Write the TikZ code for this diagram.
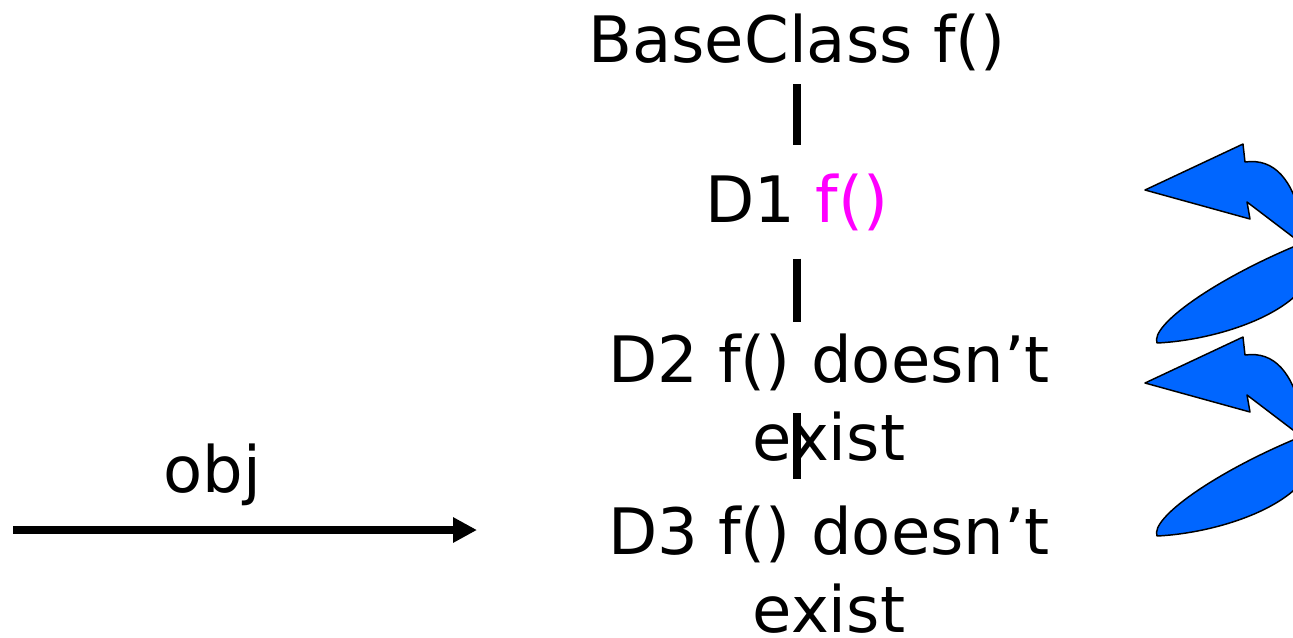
\documentclass[tikz,border=0pt]{standalone}
\usepackage{fontspec}
\setmainfont{DejaVu Sans}
\usepackage{tikz}
\usetikzlibrary{arrows.meta}
\usepackage{xcolor}
\definecolor{CurlBlue}{RGB}{0,102,255}
\definecolor{FunMagenta}{RGB}{255,0,255}

\begin{document}
\begin{tikzpicture}[
x=0.75pt,y=-0.75pt,
cls/.style={inner sep=0pt,anchor=base,align=center,
font=\fontsize{48}{58}\selectfont},
link/.style={line width=6pt,draw=black},
ptr/.style={-{Triangle[length=18pt,width=18pt]},line width=6pt},
curl/.style={fill=CurlBlue,draw=black,line width=1.1pt,line join=round}
]
\useasboundingbox (0,0) rectangle (1293,637);
\node[cls] (base) at (797,62) {BaseClass f()};
\node[cls] (d1) at (797,222) {D1 \textcolor{FunMagenta}{f()}};
\node[cls] (d2) at (829,460) {D2 f() doesn’t\\exist};
\node[cls] (d3) at (829,632) {D3 f() doesn’t\\exist};
\node[cls] (obj) at (212,492) {obj};
\coordinate (objstart) at (13,530);
\coordinate (objend) at (477,530);
\draw[link,shorten <=10pt,shorten >=21pt] (base.south) -- (base.south |- d1.north);
\draw[link,shorten <=21pt,shorten >=9pt] (d1.south) -- (d1.south |- d2.north);
\draw[link,shorten <=-36pt,shorten >=20pt] (d2.south -| base) -- (base |- d3.north);
\draw[ptr] (objstart) -- (objend);
\begin{scope}
\clip (0,0) rectangle (1293,637);
\draw[curl] (1145,190) -- (1243,144) -- (1245,162)
 .. controls (1275,158) and (1292,180) .. (1302,220)
 .. controls (1310,260) and (1302,288) .. (1293,298)
 .. controls (1260,326) and (1200,341) .. (1157,343)
 .. controls (1150,325) and (1215,280) .. (1293,247)
 .. controls (1302,243) and (1302,239) .. (1293,237)
 -- (1247,202) -- (1250,219) -- cycle;
\draw[curl,shift={(0,193)}] (1145,190) -- (1243,144) -- (1245,162)
 .. controls (1275,158) and (1292,180) .. (1302,220)
 .. controls (1310,260) and (1302,288) .. (1293,298)
 .. controls (1260,326) and (1200,341) .. (1157,343)
 .. controls (1150,325) and (1215,280) .. (1293,247)
 .. controls (1302,243) and (1302,239) .. (1293,237)
 -- (1247,202) -- (1250,219) -- cycle;
\end{scope}
\end{tikzpicture}
\end{document}
